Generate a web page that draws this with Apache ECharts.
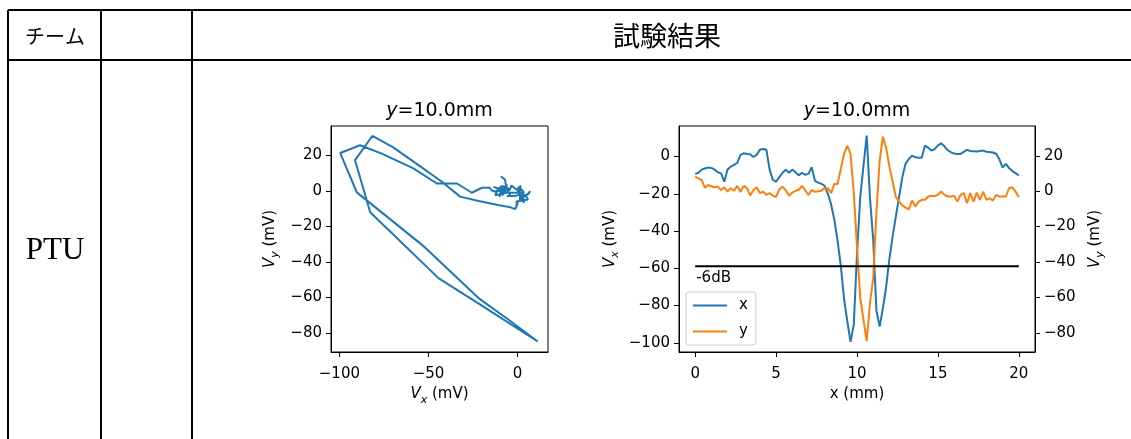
<!DOCTYPE html>
<html><head><meta charset="utf-8">
<script src="https://cdn.jsdelivr.net/npm/echarts@6/dist/echarts.min.js"></script>
<style>html,body{margin:0;padding:0;background:#fff}#c{width:1131px;height:439px}</style>
</head><body><div id="c"></div><script>
// scan positions (mm)
const positions = [0,0.2,0.4,0.6,0.8,1,1.2,1.4,1.6,1.8,2,2.2,2.4,2.6,2.8,3,3.2,3.4,3.6,3.8,4,4.2,4.4,4.6,4.8,5,5.2,5.4,5.6,5.8,6,6.2,6.4,6.6,6.8,7,7.2,7.4,7.6,7.8,8,8.2,8.4,8.6,8.8,9,9.2,9.4,9.6,9.8,10,10.2,10.4,10.6,10.8,11,11.2,11.4,11.6,11.8,12,12.2,12.4,12.6,12.8,13,13.2,13.4,13.6,13.8,14,14.2,14.4,14.6,14.8,15,15.2,15.4,15.6,15.8,16,16.2,16.4,16.6,16.8,17,17.2,17.4,17.6,17.8,18,18.2,18.4,18.6,18.8,19,19.2,19.4,19.6,19.8,20];
// V_x (mV)
const vx = [-9.3,-8.7,-7.0,-6.4,-5.9,-6.1,-7.0,-8.4,-9.0,-13.5,-7.0,-5.4,-4.5,-3.4,0.9,1.8,1.4,1.2,-0.2,0.9,3.7,4.1,3.7,-7.0,-12.5,-13.5,-11.0,-8.7,-7.0,-8.7,-7.0,-8.4,-10.1,-8.7,-9.8,-9.3,-5.7,-13.0,-14.0,-14.6,-15.7,-20.0,-25.6,-34.0,-45.3,-58.5,-76.5,-88.4,-99.5,-90.2,-52.4,-21.9,-5.0,11.3,-22.0,-44.4,-82.7,-91.2,-81.5,-70.0,-55.0,-43.0,-32.2,-21.8,-11.0,-3.9,-1.3,0.5,-0.4,-0.6,-0.7,5.9,4.7,3.2,4.0,6.0,7.1,5.5,3.5,2.3,1.6,1.4,1.4,2.5,3.6,3.0,2.9,2.7,3.0,3.2,2.6,2.5,2.2,1.5,-1.5,-6.0,-3.9,-6.2,-7.8,-8.9,-10.2];
// V_y (mV)
const vy = [8.2,7.2,6.2,2.0,3.5,2.8,2.2,2.6,0.7,2.2,-0.2,1.7,0.2,3.0,-0.5,3.0,1.7,-2.4,0.7,2.2,-1.1,-0.2,-2.1,-1.1,-2.6,-3.2,1.0,2.6,0.5,-2.6,-0.8,0.2,0.8,3.0,0.5,-2.1,0.7,-0.4,0.0,0.3,1.7,1.7,-1.1,4.1,4.1,12.6,21.0,25.6,21.2,-0.9,-31.4,-60.3,-72.5,-84.7,-63.3,-49.1,-12.1,17.2,30.8,24.5,14.0,5.5,-3.3,-5.8,-8.0,-9.3,-10.3,-5.3,-8.7,-6.0,-4.9,-4.9,-3.0,-2.6,-2.8,-2.0,-0.2,-2.1,-3.0,-3.0,-2.6,-5.9,-2.1,-1.1,-6.8,-1.1,-5.9,-0.8,-4.9,-0.2,-4.9,-4.0,-5.3,-2.1,-3.0,-3.0,-3.0,1.7,2.2,-0.2,-3.4];
const sixDbLevel = -42.4;      // -6 dB reference on V_y axis
const sixDbRange = [0, 20];
const sixDbText = '-6dB';
// tick labels
const leftXTicks = [-100, -50, 0];
const leftYTicks = [-80, -60, -40, -20, 0, 20];
const rightXTicks = [0, 5, 10, 15, 20];
const rightY1Ticks = [-100, -80, -60, -40, -20, 0];
const rightY2Ticks = [-80, -60, -40, -20, 0, 20];
const teamHeader = 'チーム';
const resultHeader = '試験結果';
const teamName = 'PTU';

const FONT = 'DejaVu Sans';
const BLUE = '#1f77b4', ORANGE = '#ff7f0e';
const fmt = v => String(v).replace('-', '\u2212');
const subRich = {
  it: {fontStyle: 'italic', fontFamily: FONT, fontSize: 15, color: '#000'},
  sub: {fontStyle: 'italic', fontFamily: FONT, fontSize: 11, color: '#000', verticalAlign: 'bottom', lineHeight: 22},
  n: {fontFamily: FONT, fontSize: 15, color: '#000'}
};
function axisCommon(ticks, min, max) {
  return {
    type: 'value', min: min, max: max,
    splitLine: {show: false},
    axisLine: {show: true, onZero: false, lineStyle: {color: '#000', width: 1}},
    axisTick: {show: true, inside: false, length: 5, lineStyle: {color: '#000', width: 1}, customValues: ticks},
    axisLabel: {show: true, customValues: ticks, formatter: fmt, color: '#000', fontFamily: FONT, fontSize: 15},
    nameTextStyle: {fontFamily: FONT, fontSize: 15, color: '#000', rich: subRich}
  };
}
const xL = Object.assign(axisCommon(leftXTicks, -104.7, 17.1), {gridIndex: 0, name: '{it|V}{sub|x}{n| (mV)}', nameLocation: 'middle', nameGap: 31});
xL.axisLabel.margin = 15;
const yL = Object.assign(axisCommon(leftYTicks, -90.6, 36.4), {gridIndex: 0, name: '{it|V}{sub|y}{n| (mV)}', nameLocation: 'middle', nameGap: 50});
yL.axisLabel.margin = 9;
const xR = Object.assign(axisCommon(rightXTicks, -1, 21), {gridIndex: 1, name: 'x (mm)', nameLocation: 'middle', nameGap: 33});
xR.axisLabel.margin = 15;
const yR1 = Object.assign(axisCommon(rightY1Ticks, -104.9, 16.4), {gridIndex: 1, position: 'left', name: '{it|V}{sub|x}{n| (mV)}', nameLocation: 'middle', nameGap: 58});
yR1.axisLabel.margin = 9;
const yR2 = Object.assign(axisCommon(rightY2Ticks, -90.8, 36.8), {gridIndex: 1, position: 'right', name: '{it|V}{sub|y}{n| (mV)}', nameLocation: 'middle', nameGap: 49});
yR2.axisLabel.margin = 9;

const chart = echarts.init(document.getElementById('c'), null, {renderer: 'canvas'});
const tableLines = [
  [8, 10, 1131, 10], [8, 60, 1131, 60],
  [8, 10, 8, 439], [101, 10, 101, 439], [192, 10, 192, 439]
];
const graphic = tableLines.map(l => ({type: 'line', shape: {x1: l[0], y1: l[1], x2: l[2], y2: l[3]}, style: {stroke: '#000', lineWidth: 2}, silent: true}));
const titleRich = {i: {fontStyle: 'italic', fontSize: 19, fontFamily: FONT, fill: '#000'}};
graphic.push(
  {type: 'text', x: 55, y: 36, style: {text: teamHeader, font: '20px "Noto Sans CJK JP"', fill: '#000', align: 'center', verticalAlign: 'middle'}},
  {type: 'text', x: 667, y: 36, style: {text: resultHeader, font: '27px "Noto Sans CJK JP"', fill: '#000', align: 'center', verticalAlign: 'middle'}},
  {type: 'text', x: 55, y: 251, style: {text: teamName, font: '31px "Liberation Serif"', fill: '#000', align: 'center', verticalAlign: 'middle'}},
  {type: 'text', x: 439.5, y: 111, style: {text: '{i|y}=10.0mm', font: '19px "DejaVu Sans"', fill: '#000', align: 'center', verticalAlign: 'middle', rich: titleRich}},
  {type: 'text', x: 857, y: 111, style: {text: '{i|y}=10.0mm', font: '19px "DejaVu Sans"', fill: '#000', align: 'center', verticalAlign: 'middle', rich: titleRich}}
);

chart.setOption({
  animation: false,
  backgroundColor: '#fff',
  grid: [
    {left: 331, top: 126, width: 217, height: 226, show: true, borderColor: '#000', borderWidth: 1, backgroundColor: 'transparent'},
    {left: 679, top: 126, width: 356, height: 226, show: true, borderColor: '#000', borderWidth: 1, backgroundColor: 'transparent'}
  ],
  xAxis: [xL, xR],
  yAxis: [yL, yR1, yR2],
  legend: {
    data: ['x', 'y'], left: 686, top: 292, orient: 'vertical',
    itemWidth: 34, itemHeight: 14, itemGap: 11, padding: [6, 8, 6, 6],
    backgroundColor: 'rgba(255,255,255,0.8)', borderColor: '#cccccc', borderWidth: 1, borderRadius: 3,
    itemStyle: {opacity: 0},
    textStyle: {fontFamily: FONT, fontSize: 15, color: '#000', padding: [0, 0, 0, 7]}
  },
  graphic: graphic,
  series: [
    {type: 'line', name: 'loop', xAxisIndex: 0, yAxisIndex: 0, symbol: 'none', data: vx.map((v, i) => [v, vy[i]]), lineStyle: {color: BLUE, width: 2}, itemStyle: {color: BLUE}},
    {type: 'line', name: 'x', xAxisIndex: 1, yAxisIndex: 1, symbol: 'none', data: positions.map((p, i) => [p, vx[i]]), lineStyle: {color: BLUE, width: 2}, itemStyle: {color: BLUE}},
    {type: 'line', name: 'y', xAxisIndex: 1, yAxisIndex: 2, symbol: 'none', data: positions.map((p, i) => [p, vy[i]]), lineStyle: {color: ORANGE, width: 2}, itemStyle: {color: ORANGE}},
    {type: 'line', name: '-6dB', xAxisIndex: 1, yAxisIndex: 2, symbol: 'none', data: sixDbRange.map(p => [p, sixDbLevel]), lineStyle: {color: '#000', width: 2}, itemStyle: {color: '#000'}, z: 5}
  ]
});
// place the -6dB annotation through the axis scales
const p = chart.convertToPixel({xAxisIndex: 1, yAxisIndex: 2}, [sixDbRange[0], sixDbLevel]);
graphic.push({type: 'text', x: p[0] + 1, y: p[1] + 4, z: 10, style: {text: sixDbText, font: '15px "DejaVu Sans"', fill: '#000', align: 'left', verticalAlign: 'top'}});
chart.setOption({graphic: graphic});
</script></body></html>
